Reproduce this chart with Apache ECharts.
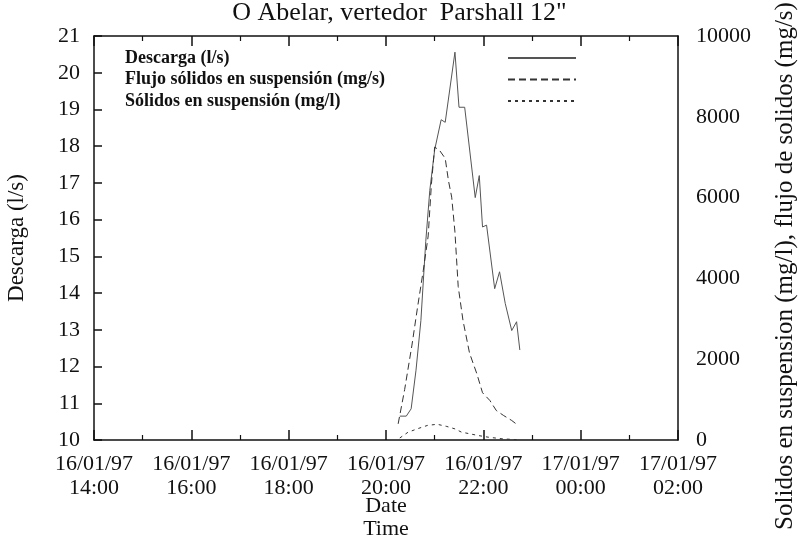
<!DOCTYPE html>
<html>
<head>
<meta charset="utf-8">
<script src="https://cdn.jsdelivr.net/npm/echarts@6/dist/echarts.min.js"></script>
<style>
  html, body { margin: 0; padding: 0; background: #fff; }
  #chart { width: 799px; height: 540px; }
</style>
</head>
<body>
<div id="chart"></div>
<script>
// Storm event of 16/01/97 at the Parshall flume (all times on 16/01/97)
const descargaTimes  = ["20:17","20:25","20:31","20:37","20:43","20:49","20:54","21:00","21:08","21:13","21:25","21:30","21:37","21:50","21:55","21:59","22:04","22:14","22:20","22:27","22:35","22:41","22:45"];
const descargaValues = [10.65, 10.65, 10.85, 11.9, 13.25, 15.4, 16.8, 17.9, 18.72, 18.65, 20.56, 19.06, 19.06, 16.6, 17.2, 15.8, 15.85, 14.12, 14.58, 13.72, 12.98, 13.22, 12.45];

const flujoTimes  = ["20:15","20:23","20:32","20:39","20:46","20:52","20:56","21:00","21:02","21:06","21:13","21:17","21:21","21:25","21:29","21:35","21:43","21:52","21:59","22:08","22:16","22:25","22:35","22:43"];
const flujoValues = [400, 1250, 2350, 3300, 4200, 5050, 6340, 7250, 7290, 7170, 6970, 6420, 6010, 5150, 3800, 2950, 2150, 1640, 1170, 980, 730, 606, 483, 360];

const solidosTimes  = ["20:17","20:27","20:39","20:51","21:03","21:15","21:25","21:33","21:54","22:06","22:23","22:41"];
const solidosValues = [50, 190, 280, 360, 390, 335, 275, 195, 110, 70, 30, 8];

// x axis runs in hours counted from 00:00 on 16/01/97
const xMin = 14, xMax = 26, xStep = 2;
const dateLabels = { 14: "16/01/97", 16: "16/01/97", 18: "16/01/97", 20: "16/01/97", 22: "16/01/97", 24: "17/01/97", 26: "17/01/97" };

const seriesNames = ["Descarga (l/s)", "Flujo sólidos en suspensión (mg/s)", "Sólidos en suspensión (mg/l)"];

function toHours(t) {
  const [h, m] = t.split(":").map(Number);
  return h + m / 60;
}
function pairs(times, values) {
  return times.map((t, i) => [toHours(t), values[i]]);
}
function hourLabel(v) {
  const h = Math.round(v);
  const hh = String(h % 24).padStart(2, "0");
  return (dateLabels[h] || "") + "\n" + hh + ":00";
}

const FONT = '"Liberation Serif", "DejaVu Serif", serif';
const INK = "#111";

const chart = echarts.init(document.getElementById("chart"), null, { renderer: "canvas" });

const baseX = {
  type: "value", min: xMin, max: xMax, interval: xStep,
  axisLine: { onZero: false, lineStyle: { color: INK, width: 1.5 } },
  axisTick: { inside: true, length: 10, lineStyle: { color: INK, width: 1.5 } },
  minorTick: { show: true, splitNumber: 2, length: 5, lineStyle: { color: INK, width: 1.2 } },
  splitLine: { show: false },
  minorSplitLine: { show: false }
};

chart.setOption({
  animation: false,
  backgroundColor: "#fff",
  title: {
    text: 'O Abelar, vertedor  Parshall 12"',
    left: "center", top: -5,
    textStyle: { fontFamily: FONT, fontSize: 26, fontWeight: "normal", color: INK }
  },
  grid: { left: 94, right: 121, top: 36, bottom: 100, outerBoundsMode: "none", containLabel: false },
  legend: {
    data: seriesNames,
    orient: "vertical",
    left: 120, top: 44,
    align: "right",
    itemWidth: 68, itemHeight: 14, itemGap: 3.5,
    // line sample only, no marker
    itemStyle: { color: "transparent", borderColor: "transparent", borderWidth: 0, opacity: 0 },
    formatter: name => "{t|" + name + "}",
    textStyle: {
      fontFamily: FONT, fontSize: 18, fontWeight: "bold", color: INK,
      rich: { t: { width: 378, align: "left", fontFamily: FONT, fontSize: 18, fontWeight: "bold", color: INK, lineHeight: 20 } }
    }
  },
  xAxis: [
    Object.assign({}, baseX, {
      position: "bottom",
      axisLabel: { formatter: hourLabel, fontFamily: FONT, fontSize: 22, color: INK, lineHeight: 24, margin: 12 },
      name: "Date\nTime", nameLocation: "middle", nameGap: 55, nameMoveOverlap: false,
      nameTextStyle: { fontFamily: FONT, fontSize: 22, color: INK, lineHeight: 23 }
    }),
    Object.assign({}, baseX, { position: "top", axisLabel: { show: false } })
  ],
  yAxis: [
    {
      type: "value", min: 10, max: 21, interval: 1, position: "left",
      axisLine: { onZero: false, lineStyle: { color: INK, width: 1.5 } },
      axisTick: { inside: true, length: 8, lineStyle: { color: INK, width: 1.5 } },
      splitLine: { show: false },
      axisLabel: { fontFamily: FONT, fontSize: 22, color: INK, margin: 14 },
      name: "Descarga (l/s)", nameLocation: "middle", nameGap: 66, nameRotate: 90, nameMoveOverlap: false,
      nameTextStyle: { fontFamily: FONT, fontSize: 23, color: INK }
    },
    {
      type: "value", min: 0, max: 10000, interval: 2000, position: "right",
      axisLine: { onZero: false, lineStyle: { color: INK, width: 1.5 } },
      axisTick: { show: false },
      splitLine: { show: false },
      axisLabel: { fontFamily: FONT, fontSize: 22, color: INK, margin: 18, formatter: v => String(v) },
      name: "Solidos en suspension (mg/l), flujo de solidos (mg/s)",
      nameLocation: "middle", nameGap: 95, nameRotate: 90, nameMoveOverlap: false,
      nameTextStyle: { fontFamily: FONT, fontSize: 25, color: INK, padding: [0, 56, 0, 0] }
    }
  ],
  series: [
    {
      name: seriesNames[0], type: "line", xAxisIndex: 0, yAxisIndex: 0,
      data: pairs(descargaTimes, descargaValues),
      symbol: "none", color: "#888",
      lineStyle: { color: "#555", width: 1 }
    },
    {
      name: seriesNames[1], type: "line", xAxisIndex: 0, yAxisIndex: 1,
      data: pairs(flujoTimes, flujoValues),
      symbol: "none", color: "#333",
      lineStyle: { color: "#333", width: 1, type: [7, 4] }
    },
    {
      name: seriesNames[2], type: "line", xAxisIndex: 0, yAxisIndex: 1,
      data: pairs(solidosTimes, solidosValues),
      symbol: "none", color: "#333",
      lineStyle: { color: "#333", width: 1, type: [3, 4] }
    }
  ]
});
</script>
</body>
</html>
